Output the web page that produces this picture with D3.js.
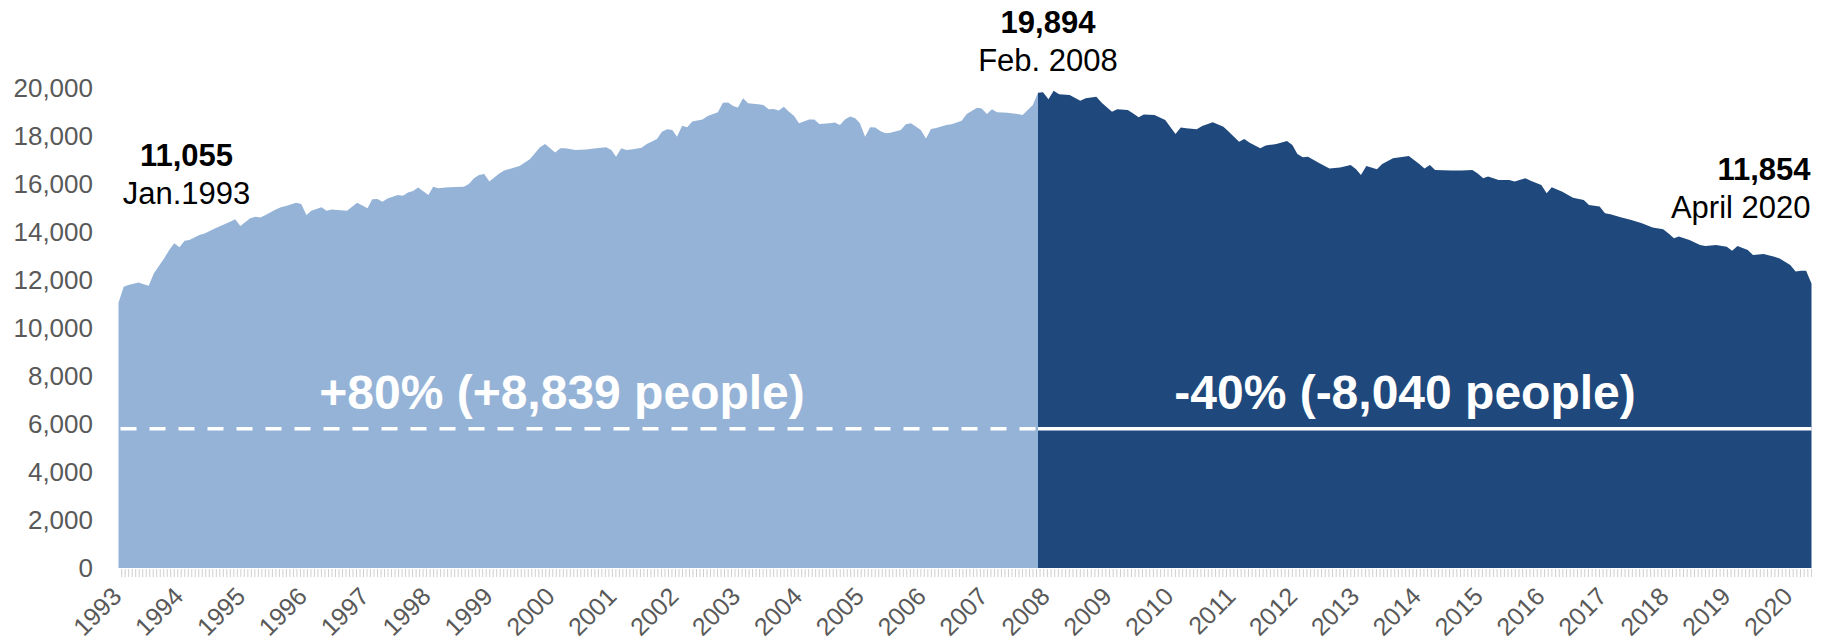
<!DOCTYPE html>
<html>
<head>
<meta charset="utf-8">
<script src="https://cdn.jsdelivr.net/npm/d3@7"></script>
<style>
  body { margin: 0; background: #fff; }
  svg { display: block; font-family: "Liberation Sans", Arial, sans-serif; }
</style>
</head>
<body>
<div id="chart"></div>
<script>
const width = 1830;
const height = 644;

// months since Jan. 1993
const growthSeries = [
  [0,11055],[1,11720],[2,11790],[4,11900],[5,11820],[6,11760],[7,12280],[9,12900],[10,13250],[11,13530],
  [12,13360],[13,13640],[14,13670],[16,13880],[17,13940],[19,14150],[21,14330],[22,14430],[23,14530],[24,14250],
  [26,14570],[27,14640],[28,14600],[29,14710],[31,14940],[32,15030],[33,15080],[35,15220],[36,15170],[37,14710],
  [38,14890],[40,15030],[41,14890],[42,14940],[45,14890],[47,15220],[49,14990],[50,15360],[51,15380],[52,15260],
  [53,15400],[55,15540],[56,15510],[57,15650],[58,15710],[59,15850],[61,15540],[62,15890],[63,15820],[65,15860],
  [68,15890],[69,16000],[70,16240],[71,16380],[72,16420],[73,16100],[75,16440],[76,16560],[78,16690],[79,16750],
  [81,17030],[82,17280],[83,17530],[84,17670],[86,17310],[87,17490],[88,17490],[90,17420],[92,17440],[94,17490],
  [96,17530],[97,17420],[98,17140],[99,17490],[100,17420],[101,17440],[103,17510],[104,17670],[106,17880],[107,18180],
  [108,18280],[109,18250],[110,17970],[111,18430],[112,18360],[113,18600],[115,18690],[116,18830],[118,18990],[119,19390],
  [120,19400],[121,19250],[122,19190],[123,19570],[124,19360],[126,19320],[127,19290],[128,19110],[129,19130],[130,19060],
  [131,19220],[132,19010],[133,18830],[134,18530],[136,18690],[137,18690],[138,18500],[140,18530],[141,18560],[142,18460],
  [143,18690],[144,18810],[145,18740],[146,18530],[147,17970],[148,18360],[149,18350],[150,18210],[151,18110],[152,18140],
  [154,18250],[155,18490],[156,18530],[157,18390],[158,18250],[159,17900],[160,18290],[161,18330],[163,18460],[164,18490],
  [166,18640],[167,18920],[169,19180],[170,19150],[171,18920],[172,19110],[173,18990],[175,18970],[177,18920],[178,18880],
  [180,19290],[181,19800]
];

const declineSeries = [
  [181,19800],[182,19820],[183,19530],[184,19890],[185,19740],[187,19710],[189,19470],[190,19570],[192,19640],[193,19390],
  [195,19010],[196,19110],[198,19080],[199,18940],[200,18780],[201,18900],[203,18880],[205,18670],[206,18390],[207,18080],
  [208,18350],[209,18320],[211,18280],[212,18420],[214,18570],[216,18390],[217,18180],[219,17760],[220,17880],[221,17720],
  [223,17490],[224,17600],[226,17670],[228,17790],[229,17630],[230,17250],[231,17110],[232,17140],[234,16890],[236,16650],
  [238,16690],[240,16790],[241,16610],[242,16380],[243,16750],[245,16610],[246,16830],[248,17070],[250,17140],[251,17170],
  [253,16820],[254,16650],[255,16790],[256,16580],[259,16560],[261,16560],[263,16580],[264,16440],[265,16240],[266,16310],
  [268,16170],[270,16170],[271,16100],[273,16240],[274,16140],[276,15960],[277,15610],[278,15860],[280,15680],[282,15430],
  [284,15330],[285,15130],[287,15060],[288,14780],[289,14740],[291,14610],[293,14500],[295,14360],[297,14190],[299,14110],
  [300,13940],[301,13740],[302,13810],[304,13670],[306,13460],[307,13420],[309,13460],[311,13390],[312,13220],[313,13420],
  [315,13250],[316,13040],[318,13080],[320,12970],[321,12900],[323,12630],[324,12350],[325,12390],[326,12390],[327,11854]
];

const years = d3.range(1993, 2021);
const yTicks = [0, 2000, 4000, 6000, 8000, 10000, 12000, 14000, 16000, 18000, 20000];
const refLevel = 5800;

const startLabel = ["11,055", "Jan.1993"];
const peakLabel = ["19,894", "Feb. 2008"];
const endLabel = ["11,854", "April 2020"];
const changeLabels = ["+80% (+8,839 people)", "-40% (-8,040 people)"];

const t0 = new Date(1993, 0, 1);
const toDate = m => d3.timeMonth.offset(t0, m);

const svg = d3.select("#chart")
    .append("svg")
    .attr("width", width)
    .attr("height", height);

// the two halves are spaced a little differently in the original, so the scale is piecewise
const x = d3.scaleTime()
    .domain([toDate(0), toDate(181), toDate(327)])
    .range([118.5, 1038, 1811.5]);

const y = d3.scaleLinear()
    .domain([0, 20000])
    .range([568, 88]);

const yearPos = d3.scalePoint()
    .domain(years)
    .range([123, 1794]);

const area = d3.area()
    .x(d => x(toDate(d[0])))
    .y0(y(0))
    .y1(d => y(d[1]));

svg.append("path")
    .datum(growthSeries)
    .attr("fill", "#95b3d7")
    .attr("d", area);

svg.append("path")
    .datum(declineSeries)
    .attr("fill", "#1f497d")
    .attr("d", area);

// reference line
svg.append("line")
    .attr("x1", x(toDate(0)) + 2)
    .attr("x2", x(toDate(181)))
    .attr("y1", y(refLevel))
    .attr("y2", y(refLevel))
    .attr("stroke", "#fff")
    .attr("stroke-width", 3.5)
    .attr("stroke-dasharray", "16,13");

svg.append("line")
    .attr("x1", x(toDate(181)))
    .attr("x2", x(toDate(327)))
    .attr("y1", y(refLevel))
    .attr("y2", y(refLevel))
    .attr("stroke", "#fff")
    .attr("stroke-width", 3.5);

// y axis labels
const yAxis = svg.append("g")
    .attr("transform", "translate(93,0)")
    .call(d3.axisLeft(y).tickValues(yTicks).tickFormat(d3.format(",")).tickSize(0).tickPadding(0));
yAxis.select(".domain").remove();
yAxis.selectAll("text")
    .attr("fill", "#595959")
    .style("font-size", "26px")
    .style("font-family", "'Liberation Sans', Arial, sans-serif");

// minor tick comb under the area
const xAxis = svg.append("g")
    .attr("transform", `translate(0,${y(0) + 1})`)
    .call(d3.axisBottom(x).ticks(d3.timeWeek.every(3)).tickSize(8).tickFormat(""));
xAxis.select(".domain").remove();
xAxis.selectAll("line").attr("stroke", "#cfcfcf");

// year labels
svg.append("g")
    .selectAll("text")
    .data(years)
    .enter().append("text")
    .attr("transform", d => `translate(${yearPos(d)},598) rotate(-45)`)
    .attr("text-anchor", "end")
    .attr("fill", "#595959")
    .style("font-size", "25px")
    .text(d => d);

// callouts
function callout(lines, cx, baseline, anchor) {
    const g = svg.append("g").attr("fill", "#000");
    g.append("text")
        .attr("x", cx).attr("y", baseline)
        .attr("text-anchor", anchor)
        .style("font-size", "31px")
        .style("font-weight", "bold")
        .text(lines[0]);
    g.append("text")
        .attr("x", cx).attr("y", baseline + 38)
        .attr("text-anchor", anchor)
        .style("font-size", "31px")
        .text(lines[1]);
}

callout(startLabel, x(toDate(0)) + 68, 166, "middle");
callout(peakLabel, x(toDate(181)) + 10, 33, "middle");
callout(endLabel, x(toDate(327)) - 1, 180, "end");

svg.append("text")
    .attr("x", 562)
    .attr("y", 409)
    .attr("text-anchor", "middle")
    .attr("fill", "#fff")
    .style("font-size", "48px")
    .style("font-weight", "bold")
    .text(changeLabels[0]);

svg.append("text")
    .attr("x", 1405)
    .attr("y", 409)
    .attr("text-anchor", "middle")
    .attr("fill", "#fff")
    .style("font-size", "48px")
    .style("font-weight", "bold")
    .text(changeLabels[1]);
</script>
</body>
</html>
